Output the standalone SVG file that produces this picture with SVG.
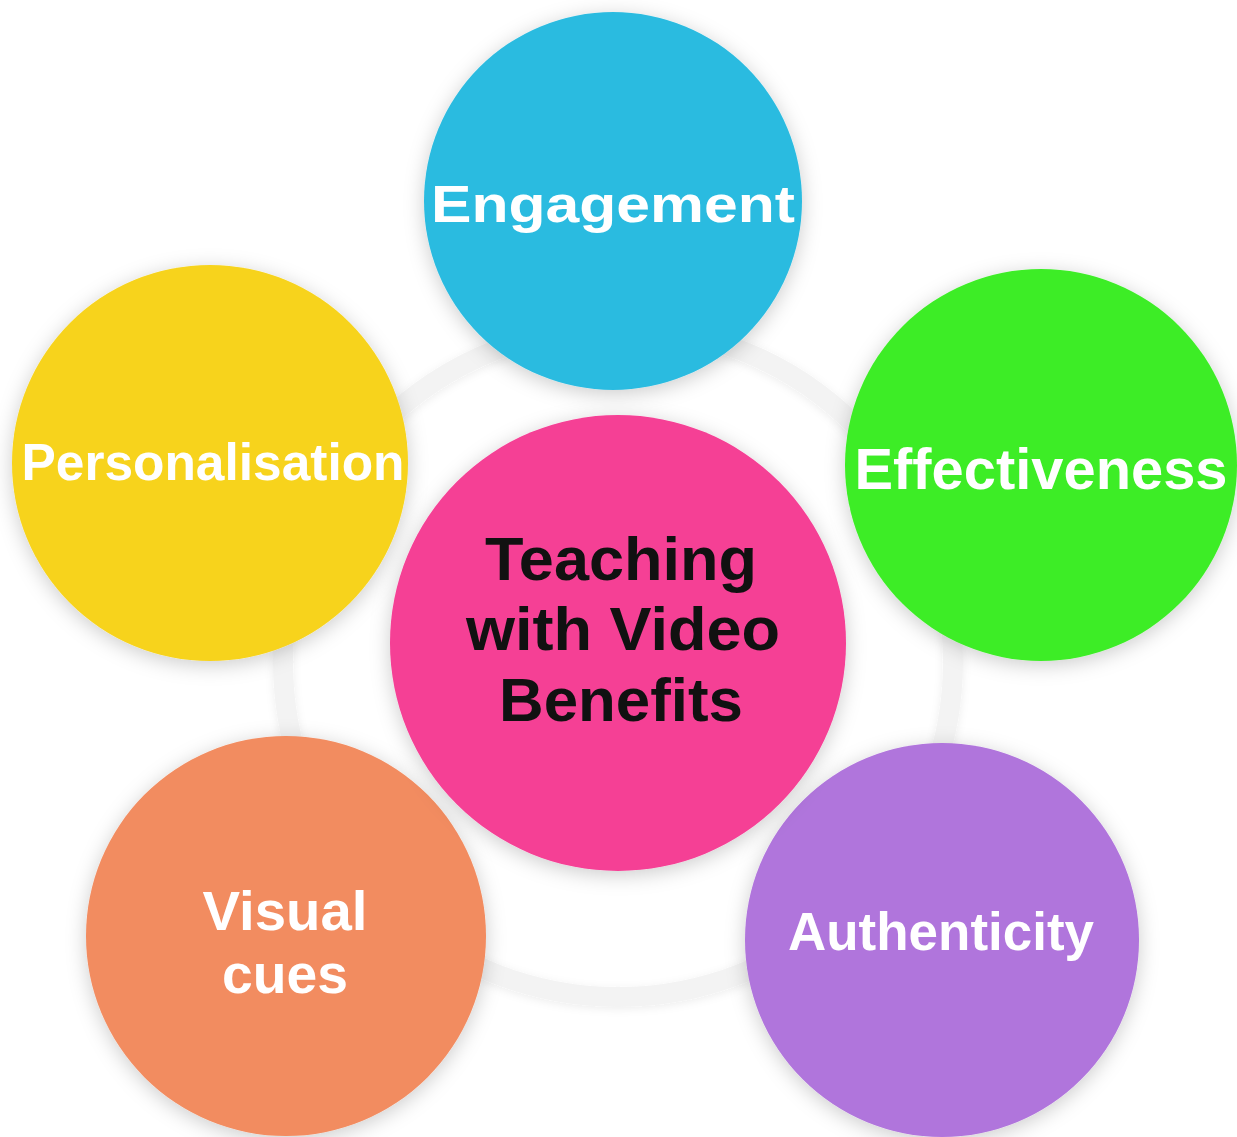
<svg xmlns="http://www.w3.org/2000/svg" width="1237" height="1137" viewBox="0 0 1237 1137">
  <defs>
    <filter id="sh" x="-20%" y="-20%" width="140%" height="140%">
      <feDropShadow dx="0" dy="4" stdDeviation="10" flood-color="#000" flood-opacity="0.2"/>
    </filter>
    <filter id="rs" x="-20%" y="-20%" width="140%" height="140%">
      <feDropShadow dx="0" dy="2" stdDeviation="4" flood-color="#000" flood-opacity="0.07"/>
    </filter>
  </defs>
  <style>
    .lbl { font-family: "Liberation Sans", Arial, sans-serif; font-weight: 700; fill: #ffffff; text-anchor: middle; }
    .ctr { font-family: "Liberation Sans", Arial, sans-serif; font-weight: 700; fill: #111111; text-anchor: middle; }
    .node circle { filter: url(#sh); }
  </style>
  <rect width="1237" height="1137" fill="#ffffff"/>
  <g id="connectors">
    <circle cx="618" cy="662" r="335" fill="none" stroke="#f3f3f3" stroke-width="20" filter="url(#rs)"/>
  </g>
  <g id="node-engagement" class="node">
    <circle cx="613" cy="201" r="189" fill="#2cbbe0"/>
    <text class="lbl" x="613" y="222" font-size="52" textLength="364" lengthAdjust="spacingAndGlyphs">Engagement</text>
  </g>
  <g id="node-personalisation" class="node">
    <circle cx="210" cy="463" r="198" fill="#f7d31c"/>
    <text class="lbl" x="213" y="480" font-size="52" textLength="383" lengthAdjust="spacingAndGlyphs">Personalisation</text>
  </g>
  <g id="node-effectiveness" class="node">
    <circle cx="1041" cy="465" r="196" fill="#3ded27"/>
    <text class="lbl" x="1041" y="489" font-size="58" textLength="373" lengthAdjust="spacingAndGlyphs">Effectiveness</text>
  </g>
  <g id="node-visual-cues" class="node">
    <circle cx="286" cy="936" r="200" fill="#f28c60"/>
    <text class="lbl" x="285" y="930" font-size="55" textLength="165" lengthAdjust="spacingAndGlyphs">Visual</text>
    <text class="lbl" x="285" y="993" font-size="55" textLength="126" lengthAdjust="spacingAndGlyphs">cues</text>
  </g>
  <g id="node-authenticity" class="node">
    <circle cx="942" cy="940" r="197" fill="#b074dc"/>
    <text class="lbl" x="941" y="950" font-size="54" textLength="306" lengthAdjust="spacingAndGlyphs">Authenticity</text>
  </g>
  <g id="node-center" class="node">
    <circle cx="618" cy="643" r="228" fill="#f53f95"/>
    <text class="ctr" x="621" y="580" font-size="62" textLength="272" lengthAdjust="spacingAndGlyphs">Teaching</text>
    <text class="ctr" x="623" y="650" font-size="62" textLength="314" lengthAdjust="spacingAndGlyphs">with Video</text>
    <text class="ctr" x="621" y="721" font-size="62" textLength="244" lengthAdjust="spacingAndGlyphs">Benefits</text>
  </g>
</svg>
